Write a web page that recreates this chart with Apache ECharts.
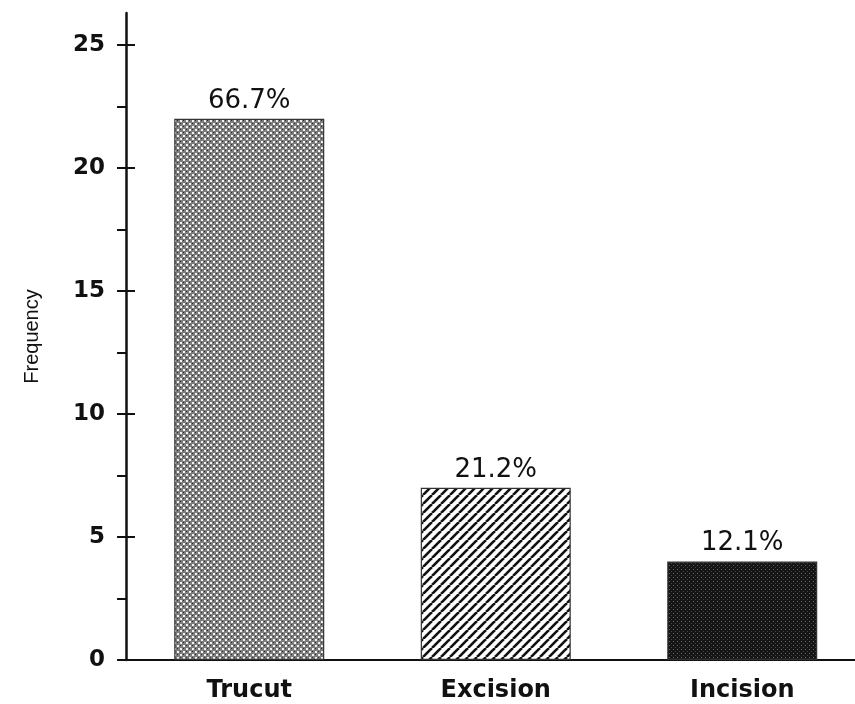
<!DOCTYPE html>
<html>
<head>
<meta charset="utf-8">
<script src="https://cdn.jsdelivr.net/npm/echarts@6/dist/echarts.min.js"></script>
<style>html,body{margin:0;padding:0;background:#fff;}#chart{width:855px;height:704px;}</style>
</head>
<body>
<div id="chart"></div>
<script>
const categories = ['Trucut', 'Excision', 'Incision'];
const frequencies = [22, 7, 4];
const percentLabels = ['66.7%', '21.2%', '12.1%'];
const yMajorTicks = [0, 5, 10, 15, 20, 25];
const yMinorTicks = [2.5, 7.5, 12.5, 17.5, 22.5];
const yMax = 26.3;

function makeTile(w, h, draw) {
  const c = document.createElement('canvas');
  c.width = w; c.height = h;
  draw(c.getContext('2d'));
  return c;
}
const trucutTile = makeTile(6, 6, g => {
  g.fillStyle = '#7c7c7c'; g.fillRect(0, 0, 6, 6);
  g.fillStyle = '#f2f2f2'; g.fillRect(0, 0, 2, 2); g.fillRect(3, 3, 2, 2);
  g.fillStyle = '#2a2a2a'; g.fillRect(3, 0, 1, 1); g.fillRect(0, 3, 1, 1);
});
const excisionTile = makeTile(9, 9, g => {
  g.fillStyle = '#fff'; g.fillRect(0, 0, 9, 9);
  g.strokeStyle = '#111'; g.lineWidth = 2.6;
  [-9, 0, 9].forEach(k => { g.beginPath(); g.moveTo(k, 9); g.lineTo(k + 9, 0); g.stroke(); });
});
const incisionTile = makeTile(4, 4, g => {
  g.fillStyle = '#151515'; g.fillRect(0, 0, 4, 4);
  g.fillStyle = '#6a6a6a'; g.fillRect(1, 1, 1, 1);
  g.fillStyle = '#444'; g.fillRect(3, 3, 1, 1);
});
const tiles = [trucutTile, excisionTile, incisionTile];

const font = "'Liberation Sans', Arial, sans-serif";
const wideFont = "'DejaVu Sans', sans-serif";
const chart = echarts.init(document.getElementById('chart'), null, {renderer: 'canvas'});
chart.setOption({
  animation: false,
  backgroundColor: '#fff',
  grid: {left: 126, width: 739.5, top: 13, bottom: 44, containLabel: false, outerBoundsMode: 'none'},
  xAxis: {
    type: 'category',
    data: categories,
    boundaryGap: true,
    axisLine: {lineStyle: {color: '#111', width: 2}},
    axisTick: {alignWithLabel: true, length: 8, lineStyle: {color: '#111', width: 2}},
    axisLabel: {color: '#111', fontSize: 24, fontWeight: 'bold', fontFamily: wideFont, margin: 19}
  },
  yAxis: [
    {
      type: 'value', min: 0, max: yMax, position: 'left',
      name: 'Frequency', nameLocation: 'middle', nameGap: 84, nameRotate: 90,
      nameTextStyle: {color: '#111', fontSize: 20, fontFamily: font},
      axisLine: {show: true, lineStyle: {color: '#111', width: 2.5}},
      axisTick: {show: true, length: 9, customValues: yMajorTicks.concat(yMinorTicks), lineStyle: {color: '#111', width: 2}},
      axisLabel: {color: '#111', fontSize: 23, fontWeight: 'bold', fontFamily: wideFont, margin: 21, customValues: yMajorTicks},
      splitLine: {show: false}
    },
    {
      type: 'value', min: 0, max: yMax, position: 'left', offset: 0,
      axisLine: {show: false},
      axisTick: {show: true, inside: true, length: 9, customValues: yMajorTicks, lineStyle: {color: '#111', width: 2}},
      axisLabel: {show: false},
      splitLine: {show: false}
    }
  ],
  series: [{
    type: 'bar',
    yAxisIndex: 0,
    barWidth: 150,
    data: frequencies.map((v, i) => ({
      value: v,
      itemStyle: {color: {image: tiles[i], repeat: 'repeat'}, borderColor: '#333', borderWidth: 1.2}
    })),
    label: {
      show: true, position: 'top', distance: 5,
      color: '#111', fontSize: 26, fontFamily: wideFont,
      formatter: p => percentLabels[p.dataIndex]
    }
  }]
});
</script>
</body>
</html>
